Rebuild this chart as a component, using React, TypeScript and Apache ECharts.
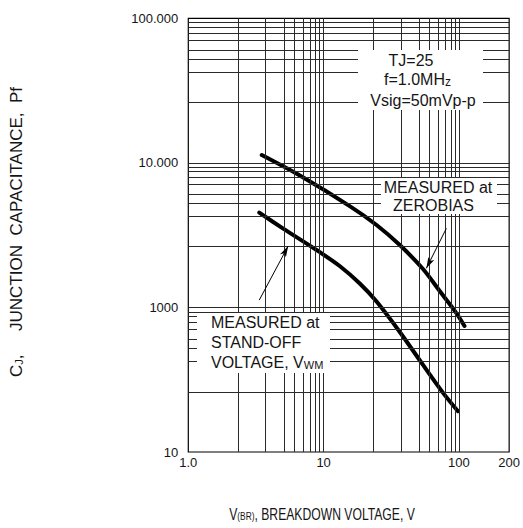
import React, { useEffect, useRef } from "react";
import * as echarts from "echarts";

// ---- axis ticks & labels (as printed on the sheet) ----
const X_TICK_VALUES = [1, 10, 100, 200];
const X_TICK_LABELS = ["1.0", "10", "100", "200"];
const Y_TICK_VALUES = [100, 1000, 10000, 100000];
const Y_TICK_LABELS = ["10", "1000", "10.000", "100.000"];

// ---- graph-paper grid lines ----
const X_GRID = [2, 3, 4, 5, 6, 7, 8, 9, 10, 20, 30, 40, 50, 60, 70, 80, 90, 100];
const Y_GRID = [
  200, 300, 400, 500, 600, 700, 800, 900, 1000,
  2000, 3000, 4000, 5000, 6000, 7000, 8000, 9000, 10000,
  20000, 30000, 40000, 50000, 60000, 70000, 80000, 90000,
];

const X_MIN = 1;
const X_MAX = 200;
const Y_MIN = 100;
const Y_MAX = 100000;

// position of the 1..10 divisions inside one decade of this (non-ideal) log paper
const X_DIVISIONS = [0, 0.371, 0.573, 0.711, 0.782, 0.853, 0.9, 0.942, 0.973, 1];
const Y_DIVISIONS = [0, 0.415, 0.628, 0.716, 0.784, 0.855, 0.902, 0.935, 0.97, 1];

// ---- curves: V(BR) [V] vs Cj [pF] ----
const ZERO_BIAS_V = [2.85, 5.6, 15.2, 21, 29.5, 43.3, 61, 92.9, 111];
const ZERO_BIAS_C = [11300, 7310, 3830, 2730, 2077, 1640, 1273, 875, 635];
const STANDOFF_V = [2.76, 3.93, 8.18, 13.2, 17.2, 21, 29.5, 43.3, 66, 97.3];
const STANDOFF_C = [3310, 2613, 1957, 1690, 1398, 1098, 565, 288, 199, 168];

// ---- annotation arrows (tail, head) ----
const ZERO_BIAS_ARROW_V = [71.7, 46.8];
const ZERO_BIAS_ARROW_C = [2620, 1652];
const STANDOFF_ARROW_V = [2.76, 4.38];
const STANDOFF_ARROW_C = [1123, 2045];

const FONT = "'Liberation Sans', Arial, Helvetica, sans-serif";
const TEXT_COLOR = "#151515";

function paper(value: number, base: number, div: number[]): number {
  const r = value / base;
  const d = Math.floor(Math.log10(r) + 1e-9);
  let m = r / Math.pow(10, d);
  if (m < 1) m = 1;
  let i = Math.floor(m) - 1;
  if (i > 8) i = 8;
  const f = div[i] + (div[i + 1] - div[i]) * (m - (i + 1));
  return d + f;
}
const px = (v: number) => paper(v, X_MIN, X_DIVISIONS);
const py = (c: number) => paper(c, Y_MIN, Y_DIVISIONS);

function lookup(values: number[], labels: string[], map: (v: number) => number) {
  return (val: number) => {
    const i = values.findIndex((v) => Math.abs(map(v) - val) < 1e-6);
    return i >= 0 ? labels[i] : "";
  };
}

export default function App() {
  const ref = useRef<HTMLDivElement>(null);

  useEffect(() => {
    if (!ref.current) return;
    const chart = echarts.init(ref.current, undefined, { renderer: "svg" });

    const gridLines = [
      ...X_GRID.map((v) => ({ xAxis: px(v) })),
      ...Y_GRID.map((c) => ({ yAxis: py(c) })),
    ];

    const textStyle = (extra: any) => ({
      fontFamily: FONT,
      fontSize: 16,
      fill: TEXT_COLOR,
      ...extra,
    });

    const curveStyle = { color: "#000", width: 4, cap: "round", join: "round" };

    const option: any = {
      animation: false,
      backgroundColor: "#fff",
      grid: {
        left: 188.3,
        top: 18.3,
        width: 321,
        height: 433.7,
        show: true,
        borderColor: "#000",
        borderWidth: 1.2,
        backgroundColor: "transparent",
      },
      xAxis: {
        type: "value",
        min: px(X_MIN),
        max: px(X_MAX),
        axisLine: { show: false },
        axisTick: { show: false },
        splitLine: { show: false },
        axisLabel: {
          customValues: X_TICK_VALUES.map(px),
          formatter: lookup(X_TICK_VALUES, X_TICK_LABELS, px),
          margin: 4,
          fontFamily: FONT,
          fontSize: 13,
          color: TEXT_COLOR,
        },
      },
      yAxis: {
        type: "value",
        min: py(Y_MIN),
        max: py(Y_MAX),
        axisLine: { show: false },
        axisTick: { show: false },
        splitLine: { show: false },
        axisLabel: {
          customValues: Y_TICK_VALUES.map(py),
          formatter: lookup(Y_TICK_VALUES, Y_TICK_LABELS, py),
          margin: 10,
          fontFamily: FONT,
          fontSize: 13,
          color: TEXT_COLOR,
        },
      },
      series: [
        {
          type: "line",
          z: 1,
          data: [],
          silent: true,
          markLine: {
            silent: true,
            symbol: "none",
            label: { show: false },
            lineStyle: { color: "#2a2a2a", width: 1, type: "solid" },
            emphasis: { disabled: true },
            data: gridLines,
          },
        },
        {
          type: "line",
          name: "zero bias",
          z: 3,
          smooth: 0.3,
          showSymbol: false,
          symbol: "none",
          lineStyle: curveStyle,
          data: ZERO_BIAS_V.map((v, i) => [px(v), py(ZERO_BIAS_C[i])]),
        },
        {
          type: "line",
          name: "stand-off",
          z: 3,
          smooth: 0.3,
          showSymbol: false,
          symbol: "none",
          lineStyle: curveStyle,
          data: STANDOFF_V.map((v, i) => [px(v), py(STANDOFF_C[i])]),
          markLine: {
            silent: true,
            symbol: ["none", "arrow"],
            symbolSize: [5, 11],
            label: { show: false },
            lineStyle: { color: "#000", width: 1, type: "solid" },
            emphasis: { disabled: true },
            data: [
              [
                { coord: [px(STANDOFF_ARROW_V[0]), py(STANDOFF_ARROW_C[0])] },
                { coord: [px(STANDOFF_ARROW_V[1]), py(STANDOFF_ARROW_C[1])] },
              ],
              [
                { coord: [px(ZERO_BIAS_ARROW_V[0]), py(ZERO_BIAS_ARROW_C[0])] },
                { coord: [px(ZERO_BIAS_ARROW_V[1]), py(ZERO_BIAS_ARROW_C[1])] },
              ],
            ],
          },
        },
      ],
      graphic: [
        // test conditions box
        { type: "rect", z: 10, shape: { x: 358, y: 50, width: 125, height: 60 }, style: { fill: "#fff" } },
        { type: "text", z: 11, x: 411, y: 60, style: textStyle({ text: "TJ=25", align: "center", verticalAlign: "middle" }) },
        {
          type: "text", z: 11, x: 417.5, y: 79.5,
          style: textStyle({
            text: "{n|f=1.0MH}{s|z}",
            align: "center",
            verticalAlign: "middle",
            rich: {
              n: { fontFamily: FONT, fontSize: 16, fill: TEXT_COLOR },
              s: { fontFamily: FONT, fontSize: 12, fill: TEXT_COLOR, verticalAlign: "bottom" },
            },
          }),
        },
        { type: "text", z: 11, x: 423, y: 100.5, style: textStyle({ text: "Vsig=50mVp-p", align: "center", verticalAlign: "middle" }) },

        // zero bias label
        { type: "rect", z: 10, shape: { x: 381, y: 178, width: 116, height: 36 }, style: { fill: "#fff" } },
        { type: "text", z: 11, x: 438, y: 187, style: textStyle({ text: "MEASURED at", align: "center", verticalAlign: "middle" }) },
        { type: "text", z: 11, x: 433.5, y: 205, style: textStyle({ text: "ZEROBIAS", align: "center", verticalAlign: "middle" }) },

        // stand-off label
        { type: "rect", z: 10, shape: { x: 197, y: 313, width: 133, height: 60 }, style: { fill: "#fff" } },
        { type: "text", z: 11, x: 211, y: 322, style: textStyle({ text: "MEASURED at", align: "left", verticalAlign: "middle" }) },
        { type: "text", z: 11, x: 211, y: 342, style: textStyle({ text: "STAND-OFF", align: "left", verticalAlign: "middle" }) },
        {
          type: "text", z: 11, x: 211, y: 362,
          style: textStyle({
            text: "{n|VOLTAGE, V}{s|WM}",
            align: "left",
            verticalAlign: "middle",
            rich: {
              n: { fontFamily: FONT, fontSize: 16, fill: TEXT_COLOR },
              s: { fontFamily: FONT, fontSize: 11, fill: TEXT_COLOR, verticalAlign: "bottom" },
            },
          }),
        },

        // axis titles
        {
          type: "text", z: 11, x: 16, y: 232, rotation: Math.PI / 2,
          style: textStyle({
            text: "{n|C}{s|J}{n|,     JUNCTION  CAPACITANCE,  Pf}",
            align: "center",
            verticalAlign: "middle",
            rich: {
              n: { fontFamily: FONT, fontSize: 17, fill: TEXT_COLOR },
              s: { fontFamily: FONT, fontSize: 11, fill: TEXT_COLOR, verticalAlign: "bottom" },
            },
          }),
        },
        {
          type: "text", z: 11, x: 322, y: 514, scaleX: 0.76,
          style: textStyle({
            text: "{n|V}{s|(BR)}{n|, BREAKDOWN VOLTAGE, V}",
            align: "center",
            verticalAlign: "middle",
            rich: {
              n: { fontFamily: FONT, fontSize: 16, fill: TEXT_COLOR },
              s: { fontFamily: FONT, fontSize: 11, fill: TEXT_COLOR, verticalAlign: "bottom" },
            },
          }),
        },
      ],
    };

    chart.setOption(option);
    return () => chart.dispose();
  }, []);

  return (
    <div
      ref={ref}
      style={{ position: "absolute", left: 0, top: 0, width: 523, height: 528 }}
    />
  );
}
